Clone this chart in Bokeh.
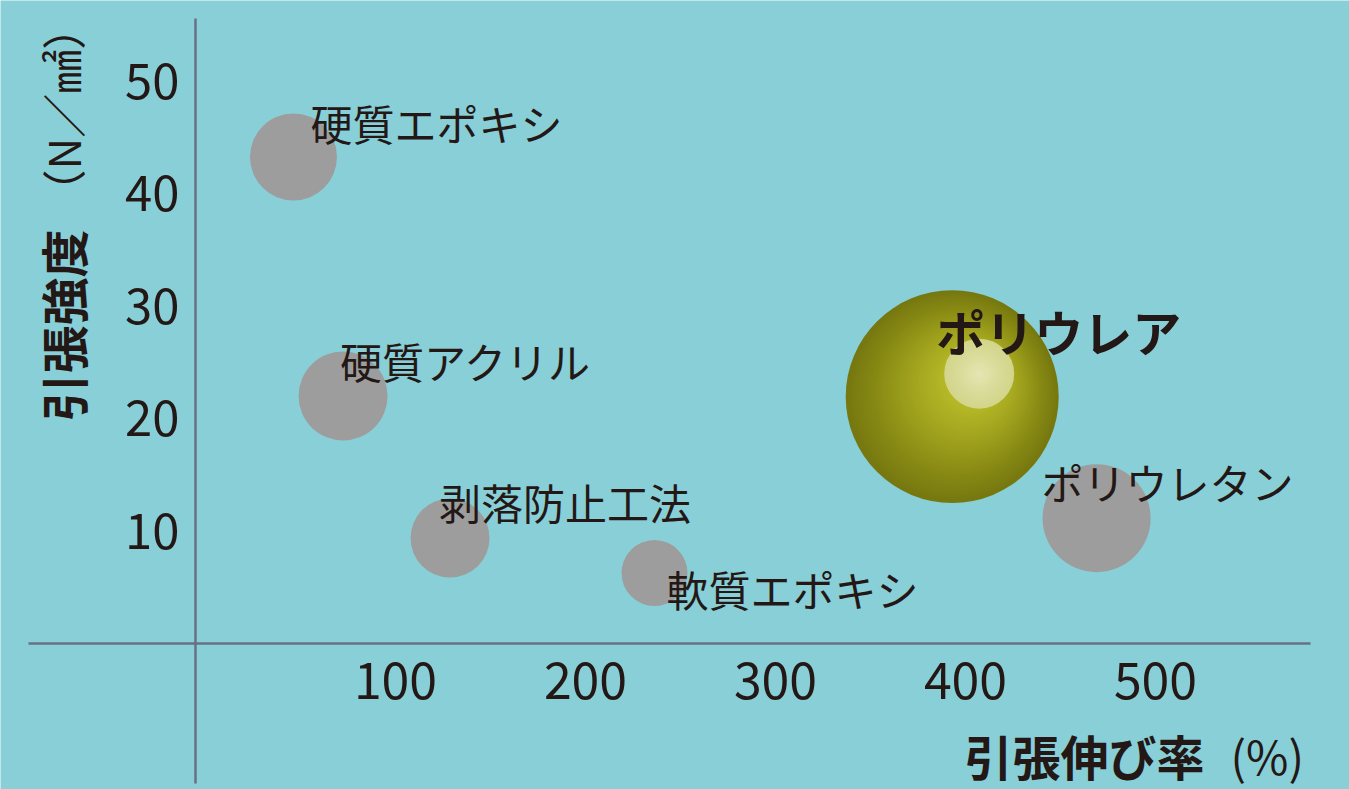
import numpy as np
from bokeh.plotting import figure
from bokeh.models import LinearAxis, FixedTicker, Range1d, ColumnDataSource
from bokeh.core.properties import value
from bokeh.embed import file_html
from bokeh.resources import INLINE

# ---------------- data ----------------
materials = ["硬質エポキシ", "硬質アクリル", "剥落防止工法", "軟質エポキシ", "ポリウレタン", "ポリウレア"]
elongation = [46.3, 72.4, 128.7, 236.3, 469.0, 393.0]      # 引張伸び率 (%)
strength = [43.2, 21.96, 9.33, 6.22, 11.1, 21.9]            # 引張強度 (N/mm2)
bubble_diameter = [87, 89, 79, 66, 108, 213]                # bubble size
highlight = "ポリウレア"

x_ticks = [100, 200, 300, 400, 500]
y_ticks = [10, 20, 30, 40, 50]
x_title_bold = "引張伸び率"
x_title_unit = "(%)"
y_title_bold = "引張強度"
y_title_unit = "（N／㎟）"

# ---------------- layout / style ----------------
W, H = 1349, 789
X0PX, XPX = 205.0, 1.9        # screen px of x=0, px per unit
Y0PX, YPX = 642.5, 11.25      # screen px of y=0, px per unit
BG = "#89cfd8"
AX = "#687083"
TXT = "#231815"
GRAY = "#9d9d9d"
FONT = "Noto Sans CJK JP"


def dx(px):
    return (px - X0PX) / XPX


def dy(py):
    return (Y0PX - py) / YPX


p = figure(width=W, height=H,
           x_range=Range1d(dx(0), dx(W)), y_range=Range1d(dy(H), dy(0)),
           x_axis_type=None, y_axis_type=None,
           toolbar_location=None, output_backend="svg",
           min_border=0, outline_line_color=None,
           background_fill_color=BG, border_fill_color=BG)
for g in p.grid:
    g.visible = False


def style_axis(ax, size):
    ax.axis_line_color = AX
    ax.axis_line_width = 2.5
    ax.major_tick_line_color = None
    ax.minor_tick_line_color = None
    ax.major_tick_in = 0
    ax.major_tick_out = 0
    ax.minor_tick_in = 0
    ax.minor_tick_out = 0
    ax.major_label_text_font = FONT
    ax.major_label_text_font_size = size
    ax.major_label_text_color = TXT


xa = LinearAxis(fixed_location=0, bounds=(dx(28), dx(1310)), ticker=FixedTicker(ticks=x_ticks))
style_axis(xa, "50px")
xa.major_label_standoff = 19
p.add_layout(xa, "below")

ya = LinearAxis(fixed_location=dx(195), bounds=(dy(783), dy(18)), ticker=FixedTicker(ticks=y_ticks))
style_axis(ya, "49px")
ya.major_label_standoff = 16
p.add_layout(ya, "left")

# ---------------- gray bubbles ----------------
idx = [i for i, m in enumerate(materials) if m != highlight]
gsrc = ColumnDataSource(dict(x=[elongation[i] for i in idx],
                             y=[strength[i] for i in idx],
                             s=[bubble_diameter[i] for i in idx]))
p.scatter("x", "y", size="s", source=gsrc, marker="circle", fill_color=GRAY, line_color=None)

# ---------------- highlighted sphere (layered radial gradient) ----------------
hi = materials.index(highlight)
cx, cy, R = elongation[hi], strength[hi], bubble_diameter[hi] / 2.0
fpx, fpy = 27.0, -23.0   # focal (highlight) offset in screen px, y downward


def hex2rgb(h):
    h = h.lstrip("#")
    return np.array([int(h[i:i + 2], 16) for i in (0, 2, 4)], dtype=float)


def grad(t, stops):
    for (t0, c0), (t1, c1) in zip(stops[:-1], stops[1:]):
        if t <= t1:
            u = 0 if t1 == t0 else (t - t0) / (t1 - t0)
            c = hex2rgb(c0) * (1 - u) + hex2rgb(c1) * u
            return "#%02x%02x%02x" % tuple(int(round(v)) for v in c)
    return stops[-1][1]


sphere_stops = [(0.0, "#767810"), (0.2, "#868814"), (0.5, "#a2a41e"), (0.75, "#b6b927"), (1.0, "#c4c733")]
N = 70
lx, ly, ls, lc = [], [], [], []
for k in range(N):
    t = k / N
    lx.append(cx + t * fpx / XPX)
    ly.append(cy - t * fpy / YPX)
    ls.append(2 * R * (1 - t))
    lc.append(grad(t, sphere_stops))
hl_stops = [(0.0, "#d2d58a"), (0.5, "#dbdd9d"), (1.0, "#e5e6b4")]
HR = 35.0
M = 20
for k in range(M):
    t = k / M
    lx.append(cx + fpx / XPX)
    ly.append(cy - fpy / YPX)
    ls.append(2 * HR * (1 - t))
    lc.append(grad(t, hl_stops))
ssrc = ColumnDataSource(dict(x=lx, y=ly, s=ls, c=lc))
p.scatter("x", "y", size="s", source=ssrc, marker="circle", fill_color="c", line_color=None)

# ---------------- bubble labels ----------------
label_dx = [17, -3, -11, 12, -55, -16]
label_dy = [-35, -35.5, -36.5, 15, -36.5, -66]
nsrc = ColumnDataSource(dict(x=[elongation[i] for i in idx], y=[strength[i] for i in idx],
                             t=[materials[i] for i in idx],
                             ox=[label_dx[i] for i in idx], oy=[label_dy[i] for i in idx]))
p.text("x", "y", text="t", x_offset="ox", y_offset="oy", source=nsrc,
       text_font=value(FONT), text_font_size=value("42px"), text_color=TXT,
       text_align="left", text_baseline="middle")
p.text(x=[cx], y=[cy], text=[highlight], x_offset=label_dx[hi], y_offset=label_dy[hi],
       text_font=value(FONT), text_font_size=value("49px"), text_font_style="bold",
       text_color=TXT, text_align="left", text_baseline="middle")

# ---------------- axis titles ----------------
p.text(x=[dx(964)], y=[dy(754)], text=[x_title_bold], text_font=value(FONT),
       text_font_size=value("48px"), text_font_style="bold", text_color=TXT,
       text_align="left", text_baseline="middle", text_line_height=1.0)
p.text(x=[dx(1230)], y=[dy(754)], text=[x_title_unit], text_font=value(FONT),
       text_font_size=value("46px"), text_color=TXT,
       text_align="left", text_baseline="middle", text_line_height=1.0)
p.text(x=[dx(61)], y=[dy(421)], text=[y_title_bold], angle=np.pi / 2, text_font=value(FONT),
       text_font_size=value("48px"), text_font_style="bold", text_color=TXT,
       text_align="left", text_baseline="middle")
p.text(x=[dx(61)], y=[dy(213)], text=[y_title_unit], angle=np.pi / 2, text_font=value(FONT),
       text_font_size=value("44px"), text_color=TXT,
       text_align="left", text_baseline="middle", text_line_height=1.0)

open("out.html", "w").write(file_html(p, INLINE))
